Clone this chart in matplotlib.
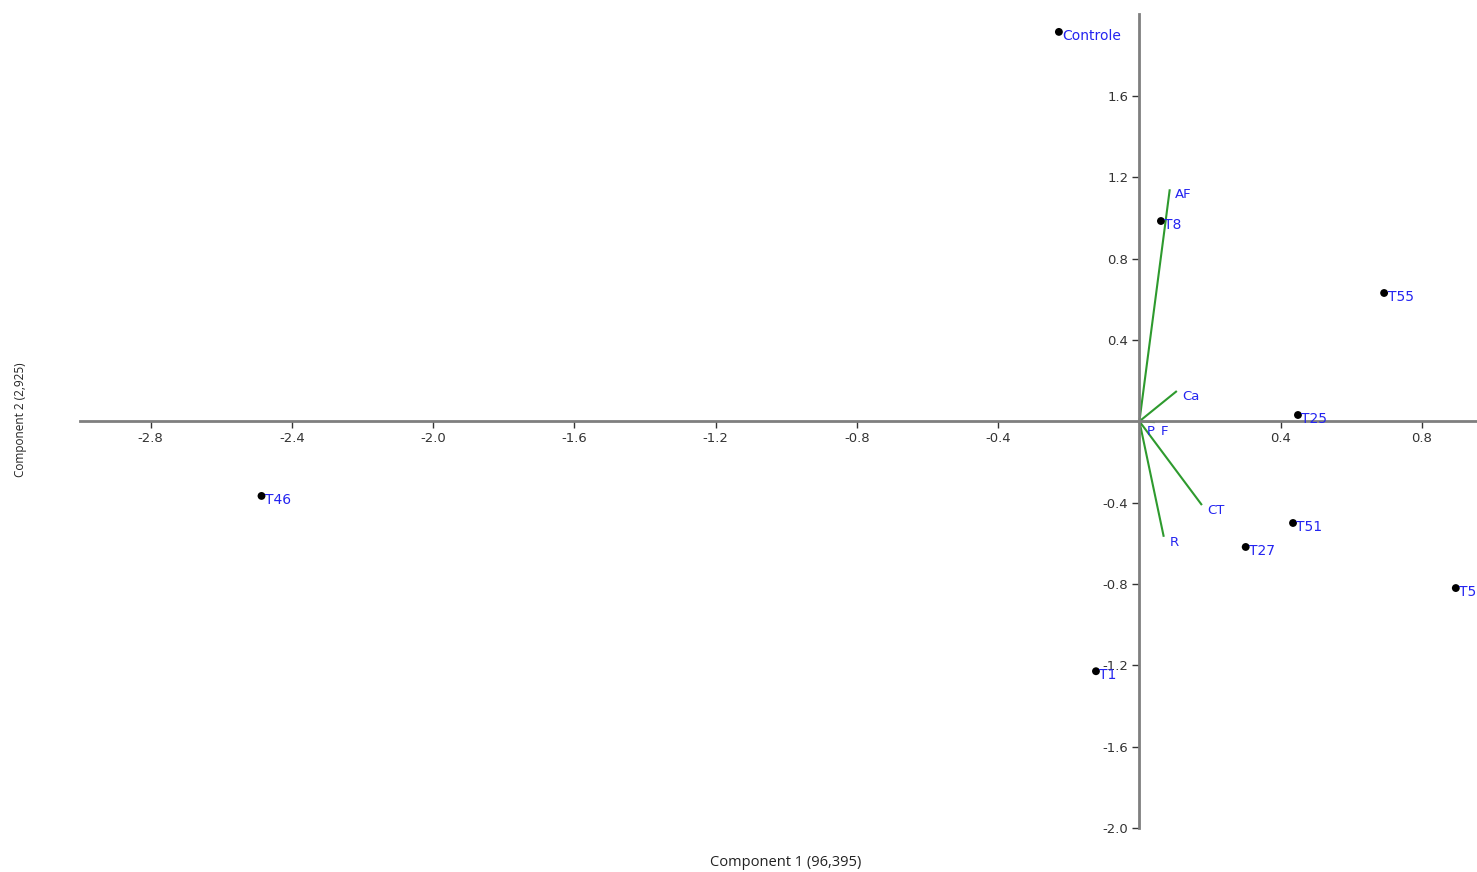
import matplotlib
matplotlib.use("Agg")
import matplotlib.pyplot as plt

# PCA scores (Component 1, Component 2)
samples = ["Controle", "T8", "T55", "T25", "T51", "T27", "T5", "T1", "T46"]
score_pc1 = [-0.228, 0.061, 0.693, 0.449, 0.435, 0.301, 0.896, -0.123, -2.486]
score_pc2 = [1.915, 0.985, 0.631, 0.031, -0.500, -0.618, -0.820, -1.229, -0.367]

# Variable loadings (biplot vectors)
variables = ["AF", "Ca", "P", "F", "CT", "R"]
load_pc1 = [0.086, 0.106, 0.004, 0.044, 0.177, 0.069]
load_pc2 = [1.141, 0.149, -0.022, -0.004, -0.412, -0.568]

xticks = [-2.8, -2.4, -2.0, -1.6, -1.2, -0.8, -0.4, 0.4, 0.8]
yticks = [-2.0, -1.6, -1.2, -0.8, -0.4, 0.4, 0.8, 1.2, 1.6]

W, H = 1477, 872
fig = plt.figure(figsize=(W / 100, H / 100), dpi=100)
ax = fig.add_axes([80 / W, (H - 828) / H, 1 - 80 / W, (828 - 14) / H])
ax.set_xlim(-3.0, 0.956)
ax.set_ylim(-2.0, 2.003)

axis_grey = "#7f7f7f"
for side in ("top", "right"):
    ax.spines[side].set_visible(False)
for side in ("left", "bottom"):
    ax.spines[side].set_position(("data", 0))
    ax.spines[side].set_color(axis_grey)
    ax.spines[side].set_linewidth(2)
    ax.spines[side].set_zorder(5)

ax.set_xticks(xticks)
ax.set_yticks(yticks)
ax.set_xticklabels([f"{v:.1f}" for v in xticks])
ax.set_yticklabels([f"{v:.1f}" for v in yticks])
ax.tick_params(axis="both", direction="out", length=5, width=1,
               color="#333333", labelsize=9.5, labelcolor="#333333", pad=3)

label_blue = "#2424f0"

# Loadings
for name, vx, vy in zip(variables, load_pc1, load_pc2):
    ax.plot([0, vx], [0, vy], color="#2e9a2e", lw=1.5, zorder=2,
            solid_capstyle="butt")
    dy = -6.5 if name == "F" else -4
    ax.annotate(name, (vx, vy), xytext=(4, dy), textcoords="offset points",
                color=label_blue, fontsize=9.5, ha="left", va="center",
                annotation_clip=False)

# Scores
ax.scatter(score_pc1, score_pc2, s=32, color="black", zorder=6,
           edgecolors="none")
for name, sx, sy in zip(samples, score_pc1, score_pc2):
    ax.annotate(name, (sx, sy), xytext=(2.5, -3), textcoords="offset points",
                color=label_blue, fontsize=10, ha="left", va="center",
                annotation_clip=False, zorder=7)

fig.text(786 / W, 1 - 862 / H, "Component 1 (96,395)", ha="center",
         va="center", fontsize=10.5, color="#222222", family="Open Sans")
fig.text(21 / W, 1 - 420 / H, "Component 2 (2,925)", ha="center",
         va="center", fontsize=8.5, color="#222222", rotation=90,
         family="Open Sans")

fig.savefig("out.png", dpi=100)
